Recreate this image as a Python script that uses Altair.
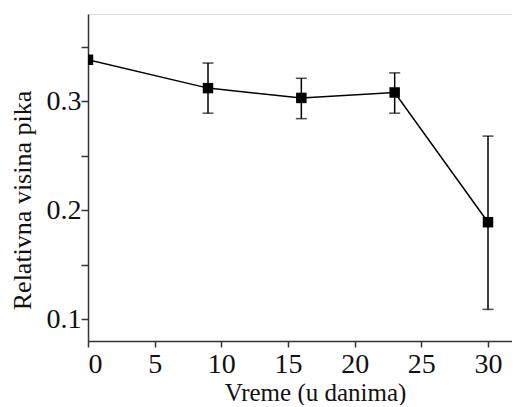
import altair as alt
import pandas as pd

days = [0, 9, 16, 23, 30]
values = [0.338, 0.312, 0.303, 0.308, 0.189]
err_low = [None, 0.289, 0.284, 0.289, 0.109]
err_high = [None, 0.335, 0.321, 0.326, 0.268]

df = pd.DataFrame({"dan": days, "v": values, "lo": err_low, "hi": err_high})
df_err = df.dropna()

FONT = "Liberation Serif, Times New Roman, serif"
AX = "#333333"

x_scale = alt.Scale(domain=[0, 31.8], nice=False, zero=False)
y_scale = alt.Scale(domain=[0.08, 0.38], nice=False, zero=False)

x_axis = alt.Axis(
    title="Vreme (u danima)", values=[0, 5, 10, 15, 20, 25, 30], format="d",
    grid=False, tickSize=6, labelPadding=3, tickColor=AX, domainColor=AX,
    tickWidth=1.5, domainWidth=1.5, labelFont=FONT, labelFontSize=28,
    labelColor="#111", titleFont=FONT, titleFontSize=25, titleFontWeight="normal",
    titleColor="#111", titleX=227, titleY=59, titleBaseline="alphabetic",
)
y_axis = alt.Axis(
    title="Relativna visina pika", values=[0.1, 0.15, 0.2, 0.25, 0.3, 0.35],
    labelExpr="round(datum.value*100) % 10 == 0 ? format(datum.value, '.1f') : ''",
    grid=False, tickSize=7, labelPadding=0, tickColor=AX, domainColor=AX,
    tickWidth=1.5, domainWidth=1.5, labelFont=FONT, labelFontSize=28,
    labelColor="#111", titleFont=FONT, titleFontSize=26, titleFontWeight="normal",
    titleColor="#111", titleX=-58, titleY=186, titleBaseline="alphabetic",
    titleAngle=270,
)

base = alt.Chart(df)

line = base.mark_line(color="black", strokeWidth=1.5, clip=True).encode(
    x=alt.X("dan:Q", scale=x_scale, axis=x_axis),
    y=alt.Y("v:Q", scale=y_scale, axis=y_axis),
)
points = base.mark_square(color="black", size=110, opacity=1, clip=True).encode(
    x=alt.X("dan:Q", scale=x_scale),
    y=alt.Y("v:Q", scale=y_scale),
)
err = alt.Chart(df_err).mark_rule(color="black", strokeWidth=1.5).encode(
    x=alt.X("dan:Q", scale=x_scale),
    y=alt.Y("lo:Q", scale=y_scale),
    y2="hi:Q",
)
cap_lo = alt.Chart(df_err).mark_tick(color="black", orient="horizontal", size=11, thickness=1.5).encode(
    x=alt.X("dan:Q", scale=x_scale),
    y=alt.Y("lo:Q", scale=y_scale),
)
cap_hi = alt.Chart(df_err).mark_tick(color="black", orient="horizontal", size=11, thickness=1.5).encode(
    x=alt.X("dan:Q", scale=x_scale),
    y=alt.Y("hi:Q", scale=y_scale),
)

chart = (line + err + cap_lo + cap_hi + points).properties(
    width=424, height=327,
    autosize=alt.AutoSizeParams(type="none"),
    padding={"left": 80, "top": 6, "right": 0, "bottom": 64},
).configure_view(stroke=None).configure(background="white")

chart.save("out.html", embed_options={"renderer": "svg", "actions": False})
